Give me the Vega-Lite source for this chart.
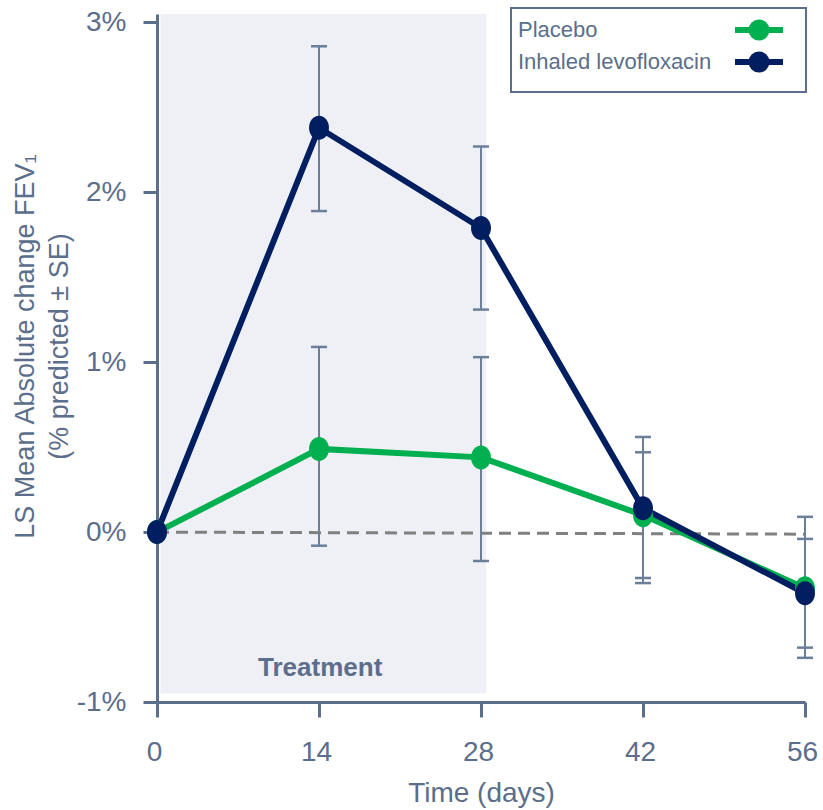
{
  "$schema": "https://vega.github.io/schema/vega-lite/v6.json",
  "width": 648,
  "height": 688,
  "autosize": "none",
  "padding": {"left": 157, "top": 14, "right": 18, "bottom": 108},
  "background": "white",
  "config": {
    "view": {"stroke": null},
    "font": "Liberation Sans"
  },
  "data": {
    "values": [
      {"group": "Placebo", "day": 0, "value": 0.0, "lo": null, "hi": null},
      {"group": "Placebo", "day": 14, "value": 0.49, "lo": -0.08, "hi": 1.09},
      {"group": "Placebo", "day": 28, "value": 0.44, "lo": -0.17, "hi": 1.03},
      {"group": "Placebo", "day": 42, "value": 0.10, "lo": -0.27, "hi": 0.47},
      {"group": "Placebo", "day": 56, "value": -0.33, "lo": -0.74, "hi": 0.09},
      {"group": "Inhaled levofloxacin", "day": 0, "value": 0.0, "lo": null, "hi": null},
      {"group": "Inhaled levofloxacin", "day": 14, "value": 2.38, "lo": 1.89, "hi": 2.86},
      {"group": "Inhaled levofloxacin", "day": 28, "value": 1.79, "lo": 1.31, "hi": 2.27},
      {"group": "Inhaled levofloxacin", "day": 42, "value": 0.14, "lo": -0.30, "hi": 0.56},
      {"group": "Inhaled levofloxacin", "day": 56, "value": -0.36, "lo": -0.68, "hi": -0.04}
    ]
  },
  "layer": [
    {
      "data": {"values": [{"day": 0.3, "day_end": 28.45, "value": 3.05, "value_end": -0.95}]},
      "mark": {"type": "rect", "color": "#eff0f5"},
      "encoding": {
        "x": {
          "field": "day", "type": "quantitative",
          "scale": {"domain": [0, 56], "nice": false, "zero": false},
          "axis": {
            "title": "Time (days)",
            "values": [0, 14, 28, 42, 56],
            "grid": false, "labelFlush": false, "labelOffset": -3,
            "domainColor": "#5b6e8b", "domainWidth": 3,
            "tickColor": "#5b6e8b", "tickWidth": 3, "tickSize": 15,
            "labelColor": "#5b6e8b", "labelFontSize": 28, "labelPadding": 21,
            "titleColor": "#5b6e8b", "titleFontSize": 28, "titleFontWeight": "normal", "titlePadding": 13
          }
        },
        "x2": {"field": "day_end"},
        "y": {
          "field": "value", "type": "quantitative",
          "scale": {"domain": [-1, 3.05], "nice": false, "zero": false},
          "axis": {
            "title": ["LS Mean Absolute change FEV₁", "(% predicted ± SE)"],
            "values": [-1, 0, 1, 2, 3],
            "labelExpr": "datum.value + '%'",
            "grid": false, "labelFlush": false,
            "domainColor": "#5b6e8b", "domainWidth": 3,
            "tickColor": "#5b6e8b", "tickWidth": 3, "tickSize": 14,
            "labelColor": "#5b6e8b", "labelFontSize": 28, "labelPadding": 17,
            "titleColor": "#5b6e8b", "titleFontSize": 27, "titleFontWeight": "normal",
            "titleLineHeight": 34, "titleX": -118, "titleY": 332, "titleBaseline": "bottom", "titleAngle": -90, "titleAlign": "center"
          }
        },
        "y2": {"field": "value_end"}
      }
    },
    {
      "data": {"values": [{"day": 14.1, "value": -0.80, "label": "Treatment"}]},
      "mark": {"type": "text", "fontSize": 26, "fontWeight": "bold", "color": "#5b6e8b"},
      "encoding": {
        "x": {"field": "day", "type": "quantitative"},
        "y": {"field": "value", "type": "quantitative"},
        "text": {"field": "label"}
      }
    },
    {
      "data": {"values": [{"day": 0, "value": 0.0}, {"day": 56, "value": -0.012}]},
      "mark": {"type": "line", "color": "#808080", "strokeWidth": 3, "strokeDash": [12, 7]},
      "encoding": {
        "x": {"field": "day", "type": "quantitative"},
        "y": {"field": "value", "type": "quantitative"}
      }
    },
    {
      "transform": [{"filter": "datum.lo != null"}],
      "mark": {"type": "rule", "color": "#6b7f99", "strokeWidth": 2},
      "encoding": {
        "x": {"field": "day", "type": "quantitative"},
        "y": {"field": "lo", "type": "quantitative"},
        "y2": {"field": "hi"}
      }
    },
    {
      "transform": [{"filter": "datum.lo != null"}],
      "mark": {"type": "tick", "orient": "horizontal", "color": "#6b7f99", "size": 16, "thickness": 2.5, "opacity": 1},
      "encoding": {
        "x": {"field": "day", "type": "quantitative"},
        "y": {"field": "lo", "type": "quantitative"}
      }
    },
    {
      "transform": [{"filter": "datum.hi != null"}],
      "mark": {"type": "tick", "orient": "horizontal", "color": "#6b7f99", "size": 16, "thickness": 2.5, "opacity": 1},
      "encoding": {
        "x": {"field": "day", "type": "quantitative"},
        "y": {"field": "hi", "type": "quantitative"}
      }
    },
    {
      "mark": {"type": "line", "strokeWidth": 6},
      "encoding": {
        "x": {"field": "day", "type": "quantitative"},
        "y": {"field": "value", "type": "quantitative"},
        "color": {
          "field": "group", "type": "nominal",
          "scale": {"domain": ["Placebo", "Inhaled levofloxacin"], "range": ["#00b050", "#001e60"]},
          "legend": {
            "orient": "none", "legendX": 354, "legendY": -6, "title": null,
            "strokeColor": "#5b6e8b", "padding": 10,
            "labelFontSize": 22, "labelColor": "#5b6e8b", "labelLimit": 400,
            "symbolType": "M-2.67,0H2.67M-0.83,0A0.83,0.83,0,1,1,0.83,0A0.83,0.83,0,1,1,-0.83,0Z",
            "symbolSize": 324, "symbolStrokeWidth": 6,
            "symbolOffset": 226, "labelOffset": -253, "rowPadding": -10,
            "encode": {
              "symbols": {"update": {"fill": {"scale": "color", "field": "value"}, "stroke": {"scale": "color", "field": "value"}, "opacity": {"value": 1}}},
              "legend": {"update": {"strokeWidth": {"value": 2}}}
            }
          }
        },
        "order": {"field": "day", "type": "quantitative"}
      }
    },
    {
      "mark": {"type": "point", "filled": true, "opacity": 1, "size": 576, "shape": "M-0.83,0A0.83,1,0,1,1,0.83,0A0.83,1,0,1,1,-0.83,0Z"},
      "encoding": {
        "x": {"field": "day", "type": "quantitative"},
        "y": {"field": "value", "type": "quantitative"},
        "color": {"field": "group", "type": "nominal"}
      }
    }
  ]
}
